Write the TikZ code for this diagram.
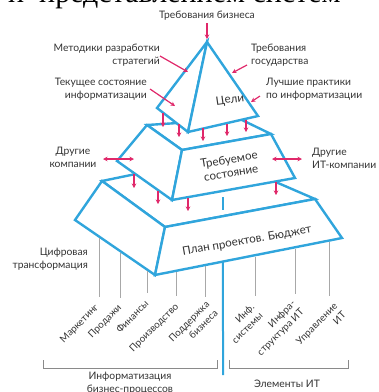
\documentclass[tikz,border=0pt]{standalone}
\usepackage{fontspec}
\setmainfont{Lato}
\newfontfamily\serifbig{Liberation Serif}
\usetikzlibrary{arrows.meta,calc}

\definecolor{pyrblue}{HTML}{30A5DC}
\definecolor{arrpink}{HTML}{E0286A}
\definecolor{txtgray}{HTML}{333333}
\definecolor{stemgray}{HTML}{A8A8A8}
\definecolor{brkgray}{HTML}{8A8A8A}

\begin{document}
\begin{tikzpicture}[x=1pt,y=-1pt,
  face/.style={draw=pyrblue, line width=2.4pt, fill=white, line join=miter},
  bline/.style={draw=pyrblue, line width=2pt},
  parr/.style={draw=arrpink, line width=1.2pt, -{Stealth[length=4.5pt,width=4.5pt]}},
  darr/.style={draw=arrpink, line width=1.2pt, {Stealth[length=4.5pt,width=4.5pt]}-{Stealth[length=4.5pt,width=4.5pt]}},
  lbl/.style={font=\fontsize{10.3}{12.8}\selectfont, text=txtgray, inner sep=0pt},
  inlbl/.style={font=\fontsize{11.6}{13.5}\selectfont, text=txtgray, inner sep=0pt, align=center},
  stem/.style={draw=stemgray, line width=0.9pt},
  brk/.style={draw=brkgray, line width=0.9pt},
  rlbl/.style={lbl, font=\fontsize{9.8}{12}\selectfont, rotate=45, anchor=north east, align=right},
]
\useasboundingbox (0,0) rectangle (379,392);

% cropped heading at the top
\node[font=\serifbig\fontsize{30}{30}\selectfont, anchor=base west, inner sep=0pt] (head) at (8,2) {и\hspace{0.5em}представлением систем};

% ---------- corner coordinates ----------
% bottom layer
\coordinate (BBL) at (102,181);
\coordinate (BBR) at (218,157);
\coordinate (BTR) at (315,199);
\coordinate (BTL) at (165,227);
\coordinate (BL)  at (75,220);
\coordinate (BFL) at (155,275);
\coordinate (BFR) at (342,238);
% middle layer
\coordinate (MBL) at (147,125);
\coordinate (MBR) at (240,119);
\coordinate (MTR) at (271,134);
\coordinate (MTL) at (182,150);
\coordinate (ML)  at (117,161);
\coordinate (MFL) at (172,200);
\coordinate (MFR) at (295,178);
% top pyramid
\coordinate (A)  at (207,42);
\coordinate (TL) at (157,108);
\coordinate (TF) at (188,132);
\coordinate (TR) at (258,116);

% ---------- bottom layer ----------
\draw[face] (BBL) -- (BBR) -- (BTR) -- (BTL) -- cycle;
\draw[face] (BBL) -- (BTL) -- (BFL) -- (BL) -- cycle;
\draw[face] (BTL) -- (BTR) -- (BFR) -- (BFL) -- cycle;
\coordinate (v1) at (223,197);
\coordinate (v2) at (223,210);
\draw[bline] (v1) -- (v2);

% ---------- middle layer ----------
\draw[face] (MBL) -- (MBR) -- (MTR) -- (MTL) -- cycle;
\draw[face] (MBL) -- (MTL) -- (MFL) -- (ML) -- cycle;
\draw[face] (MTL) -- (MTR) -- (MFR) -- (MFL) -- cycle;

% ---------- top pyramid ----------
\draw[face] (A) -- (TL) -- (TF) -- cycle;
\draw[face] (A) -- (TF) -- (TR) -- cycle;

% ---------- inner labels ----------
\node[inlbl, rotate=8] (goals) at (230,100) {Цели};
\node[inlbl, rotate=9] (req) at (230,166) {Требуемое\\состояние};
\node[inlbl, rotate=10] (plan) at (247,241) {План проектов. Бюджет};

% ---------- arrows between layers ----------
\foreach \x/\ya/\yb in {163/113/127, 179/124/137, 203/128/141, 227/124/136, 246/120/132,
                        134/174/188, 158/191/204, 188/198/211, 276/182/195}{
  \coordinate (s\x) at (\x,\ya);
  \coordinate (e\x) at (\x,\yb);
  \draw[parr] (s\x) -- (e\x);
}

% ---------- outer labels (top) ----------
\node[lbl] (biz) at (207,16) {Требования бизнеса};
\coordinate (bizs) at (207,23);
\coordinate (bize) at (207,39);
\draw[parr] (bizs) -- (bize);

\node[lbl, align=right, anchor=east] (meth) at (160,55.5) {Методики разработки\\стратегий};
\coordinate (meths) at (160,56);
\coordinate (methe) at (188,72);
\draw[parr] (meths) -- (methe);

\node[lbl, align=left, anchor=west] (gov) at (251,55.5) {Требования\\государства};
\coordinate (govs) at (247,65);
\coordinate (gove) at (232,73);
\draw[parr] (govs) -- (gove);

\node[lbl, align=right, anchor=east] (cur) at (147,89) {Текущее состояние\\информатизации};
\coordinate (curs) at (150,89);
\coordinate (cure) at (175,106);
\draw[parr] (curs) -- (cure);

\node[lbl, align=left, anchor=west] (best) at (266,89.5) {Лучшие практики\\по информатизации};
\coordinate (bests) at (260,96);
\coordinate (beste) at (251,102);
\draw[parr] (bests) -- (beste);

% ---------- side labels ----------
\node[lbl, align=center] (oth) at (73,157.5) {Другие\\компании};
\coordinate (othl) at (103,159);
\coordinate (othr) at (134,159);
\draw[darr] (othl) -- (othr);

\node[lbl, align=left, anchor=west] (othit) at (312,158.5) {Другие\\ИТ-компании};
\coordinate (othitl) at (272,159);
\coordinate (othitr) at (302,159);
\draw[darr] (othitl) -- (othitr);

\node[lbl, align=right, anchor=east] (dig) at (88,259) {Цифровая\\трансформация};

% ---------- stems and rotated labels ----------
\node[rlbl] (l1) at (94,303) {Маркетинг};
\node[rlbl] (l2) at (117,303) {Продажи};
\node[rlbl] (l3) at (144,299) {Финансы};
\node[rlbl] (l4) at (174,302) {Производство};
\node[rlbl] (l5) at (205,300) {Поддержка\\бизнеса};
\node[rlbl] (l6) at (250,303) {Инф.\\системы};
\node[rlbl] (l7) at (291,299) {Инфра-\\структура ИТ};
\node[rlbl] (l8) at (333,302) {Управление\\ИТ};

\coordinate (t1) at ($(BL)!{(99-75)/80}!(BFL)$);
\coordinate (t2) at ($(BL)!{(120.7-75)/80}!(BFL)$);
\coordinate (t3) at ($(BL)!{(147.3-75)/80}!(BFL)$);
\coordinate (t4) at ($(BFL)!{(176.7-155)/187}!(BFR)$);
\coordinate (t5) at ($(BFL)!{(205.7-155)/187}!(BFR)$);
\coordinate (t6) at ($(BFL)!{(255.5-155)/187}!(BFR)$);
\coordinate (t7) at ($(BFL)!{(295.7-155)/187}!(BFR)$);
\coordinate (t8) at ($(BFL)!{(329.3-155)/187}!(BFR)$);
\foreach \i/\yb in {1/297, 2/298, 3/293, 4/296, 5/297, 6/296, 7/294, 8/296}{
  \draw[stem] ([yshift=-1.5pt]t\i) -- (t\i |- 0,\yb);
}

% ---------- central axis ----------
\coordinate (ax1) at ($(BFL)!{(223-155)/187}!(BFR)$);
\coordinate (ax2) at (223,375);
\draw[bline] (ax1) -- (ax2);

% ---------- brackets ----------
\coordinate (b1) at (43,360);
\coordinate (b2) at (217,360);
\coordinate (b3) at (229,360);
\coordinate (b4) at (348,360);
\draw[brk] (b1) -- ++(0,8) -| (b2);
\draw[brk] (b3) -- ++(0,8) -| (b4);

\node[lbl, align=center, anchor=north] (infb) at (130,372) {Информатизация\\бизнес-процессов};
\node[lbl] (itel) at (287,384) {Элементы ИТ};

\end{tikzpicture}
\end{document}
